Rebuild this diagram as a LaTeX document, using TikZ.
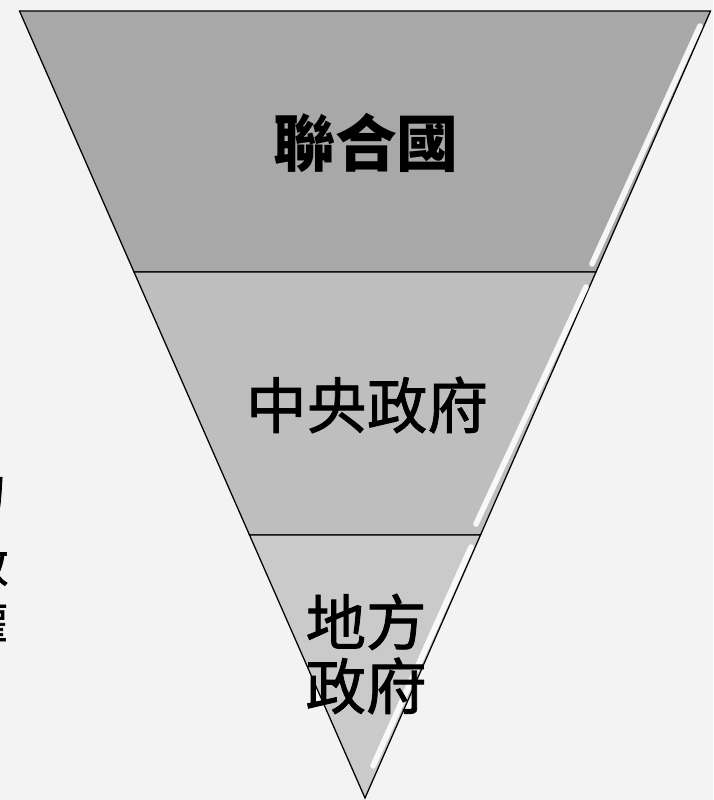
\documentclass[tikz,border=0pt]{standalone}
\usepackage{fontspec}
\newfontfamily\cjk{Noto Sans CJK TC}
\newfontfamily\cjkmid[FakeBold=1.4]{Noto Sans CJK TC}
\usetikzlibrary{positioning}
\definecolor{bgpaper}{RGB}{243,243,243}
\definecolor{topgray}{RGB}{168,168,168}
\definecolor{midgray}{RGB}{190,190,190}
\definecolor{lowgray}{RGB}{202,202,202}

\begin{document}
\begin{tikzpicture}[x=0.025cm, y=-0.025cm,
    layer/.style={draw=black, line width=0.9pt, line join=miter},
    shine/.style={white, line width=4pt, line cap=round, opacity=0.9},
    label/.style={font=\cjkmid\fontsize{43}{45.5}\selectfont, inner sep=0pt, align=center}
]
\useasboundingbox (0,0) rectangle (713,800);
\fill[bgpaper] (0,0) rectangle (713,800);
\clip (0,0) rectangle (713,800);

% cut-off text at the left edge
\node[label, anchor=east] (edge1) at (8,492) {力};
\node[label, anchor=east, font=\cjkmid\fontsize{32}{36}\selectfont] (edge2) at (9,565) {效};
\node[label, anchor=east, font=\cjkmid\fontsize{32}{36}\selectfont] (edge3) at (8,622) {權};

% the three layers
\filldraw[layer, fill=topgray] (19.5,11) -- (710.5,11) -- (596,272) -- (134,272) -- cycle;
\filldraw[layer, fill=midgray] (134,272) -- (596,272) -- (480.5,535) -- (249.5,535) -- cycle;
\filldraw[layer, fill=lowgray] (249.5,535) -- (480.5,535) -- (365,798) -- cycle;

% bevel highlights
\draw[shine] (700,26) -- (592,264);
\draw[shine] (586,287) -- (476,524);
\draw[shine] (471,547) -- (373,766);

\node[label, font=\cjk\bfseries\fontsize{44}{46}\selectfont] (un) at (366,143) {聯合國};
\node[label] (central) at (367,405) {中央政府};
\node[label] (local) at (366,654) {地方\\政府};

\end{tikzpicture}
\end{document}
